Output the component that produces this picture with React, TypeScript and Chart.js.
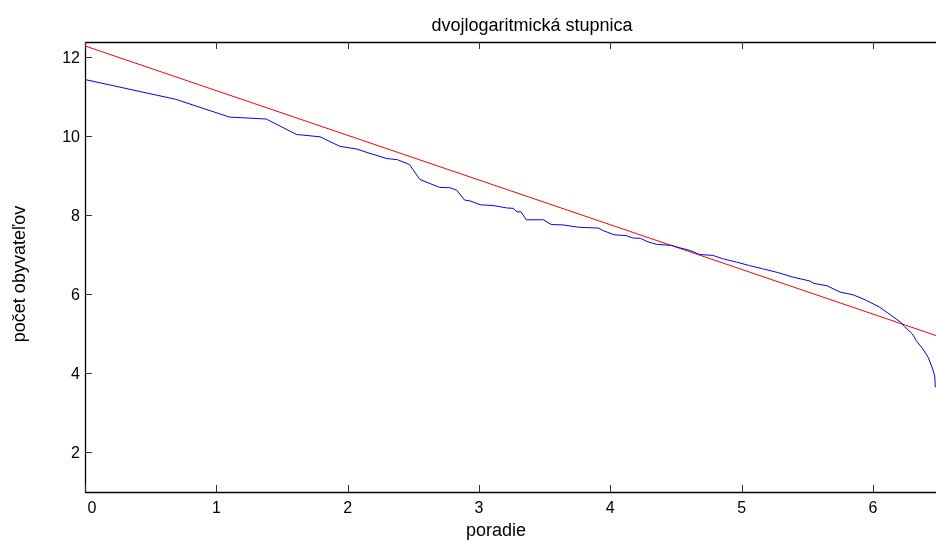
import React, { useEffect, useRef } from "react";
import { Chart, registerables } from "chart.js";

Chart.register(...registerables);

const TITLE = "dvojlogaritmická stupnica";
const X_LABEL = "poradie";
const Y_LABEL = "počet obyvateľov";

const X_TICKS = [0, 1, 2, 3, 4, 5, 6];
const Y_TICKS = [2, 4, 6, 8, 10, 12];

// ln(rank) vs ln(population)
const BLUE_X = [
  0, 0.69, 1.1, 1.38, 1.61, 1.79, 1.94, 2.07, 2.17, 2.3, 2.38, 2.47, 2.55, 2.7, 2.78, 2.83,
  2.89, 2.93, 3.01, 3.11, 3.21, 3.26, 3.29, 3.32, 3.36, 3.49, 3.55, 3.64, 3.76, 3.91, 3.95,
  4.03, 4.12, 4.17, 4.23, 4.28, 4.35, 4.47, 4.53, 4.61, 4.68, 4.78, 4.86, 4.96, 5.06, 5.16,
  5.27, 5.39, 5.52, 5.55, 5.65, 5.75, 5.85, 5.95, 6.05, 6.13, 6.21, 6.24, 6.3, 6.33, 6.38,
  6.42, 6.45, 6.47, 6.475,
];
const BLUE_Y = [
  11.44, 10.94, 10.49, 10.44, 10.05, 9.99, 9.75, 9.68, 9.57, 9.44, 9.41, 9.29, 8.91, 8.71, 8.7,
  8.64, 8.39, 8.37, 8.27, 8.25, 8.19, 8.18, 8.09, 8.09, 7.89, 7.89, 7.77, 7.76, 7.7, 7.68, 7.61,
  7.51, 7.49, 7.43, 7.42, 7.34, 7.27, 7.24, 7.18, 7.11, 7.01, 6.99, 6.9, 6.82, 6.73, 6.65,
  6.56, 6.44, 6.34, 6.28, 6.22, 6.06, 5.99, 5.85, 5.68, 5.49, 5.3, 5.19, 5.0, 4.83, 4.62,
  4.41, 4.16, 3.94, 3.65,
];

const RED_X = [0, 6.48];
const RED_Y = [12.29, 4.96];

const X_MIN = 0;
const X_MAX = 6.48;
const Y_MIN = 1;
const Y_MAX = 12.39;

const TICK_FONT = '16px "Liberation Sans", Arial, sans-serif';
const LABEL_FONT = '18px "Liberation Sans", Arial, sans-serif';

const axesPlugin = {
  id: "matlabAxes",
  afterDraw(chart: any) {
    const { ctx, chartArea } = chart;
    const { left, right, top, bottom } = chartArea;
    const xs = chart.scales.x;
    const ys = chart.scales.y;
    ctx.save();
    ctx.strokeStyle = "#000";
    ctx.lineWidth = 1.3;
    ctx.beginPath();
    ctx.moveTo(left + 0.5, top);
    ctx.lineTo(left + 0.5, bottom + 1);
    ctx.moveTo(left, bottom + 0.5);
    ctx.lineTo(right, bottom + 0.5);
    ctx.moveTo(left, top + 0.5);
    ctx.lineTo(right, top + 0.5);
    ctx.stroke();

    ctx.lineWidth = 1;
    ctx.strokeStyle = "#333";
    const tl = 7;
    ctx.beginPath();
    X_TICKS.forEach((v) => {
      const px = Math.round(xs.getPixelForValue(v)) + 0.5;
      ctx.moveTo(px, bottom);
      ctx.lineTo(px, bottom - tl);
      ctx.moveTo(px, top);
      ctx.lineTo(px, top + tl);
    });
    Y_TICKS.forEach((v) => {
      const py = Math.round(ys.getPixelForValue(v)) + 0.5;
      ctx.moveTo(left, py);
      ctx.lineTo(left + tl, py);
    });
    ctx.stroke();

    ctx.fillStyle = "#000";
    ctx.font = TICK_FONT;
    ctx.textAlign = "center";
    ctx.textBaseline = "alphabetic";
    X_TICKS.forEach((v, i) => {
      const px = xs.getPixelForValue(v) + (i === 0 ? 7 : 0);
      ctx.fillText(String(v), px, bottom + 21);
    });
    ctx.textAlign = "right";
    ctx.textBaseline = "middle";
    Y_TICKS.forEach((v) => {
      ctx.fillText(String(v), left - 5, ys.getPixelForValue(v) + 1);
    });

    ctx.font = LABEL_FONT;
    ctx.textAlign = "center";
    ctx.textBaseline = "alphabetic";
    ctx.fillText(TITLE, 532, 31);
    ctx.fillText(X_LABEL, 496, 536);
    ctx.save();
    ctx.translate(25, 274);
    ctx.rotate(-Math.PI / 2);
    ctx.fillText(Y_LABEL, 0, 0);
    ctx.restore();
    ctx.restore();
  },
};

export default function App() {
  const ref = useRef<HTMLCanvasElement | null>(null);
  useEffect(() => {
    if (!ref.current) return;
    const chart = new Chart(ref.current, {
      type: "line",
      data: {
        datasets: [
          {
            data: BLUE_X.map((x, i) => ({ x, y: BLUE_Y[i] })),
            borderColor: "#0000ff",
            borderWidth: 1,
            pointRadius: 0,
            tension: 0,
          },
          {
            data: RED_X.map((x, i) => ({ x, y: RED_Y[i] })),
            borderColor: "#ff0000",
            borderWidth: 1,
            pointRadius: 0,
            tension: 0,
          },
        ],
      },
      options: {
        responsive: false,
        animation: false,
        layout: { padding: { left: 85, top: 42, right: 0, bottom: 48 } },
        plugins: { legend: { display: false }, tooltip: { enabled: false }, title: { display: false } },
        scales: {
          x: { type: "linear", min: X_MIN, max: X_MAX, display: false },
          y: { type: "linear", min: Y_MIN, max: Y_MAX, display: false },
        },
      },
      plugins: [axesPlugin],
    });
    return () => chart.destroy();
  }, []);
  return (
    <div style={{ position: "fixed", left: 0, top: 0, width: 936, height: 540, background: "#fff" }}>
      <canvas ref={ref} width={936} height={540} />
    </div>
  );
}
